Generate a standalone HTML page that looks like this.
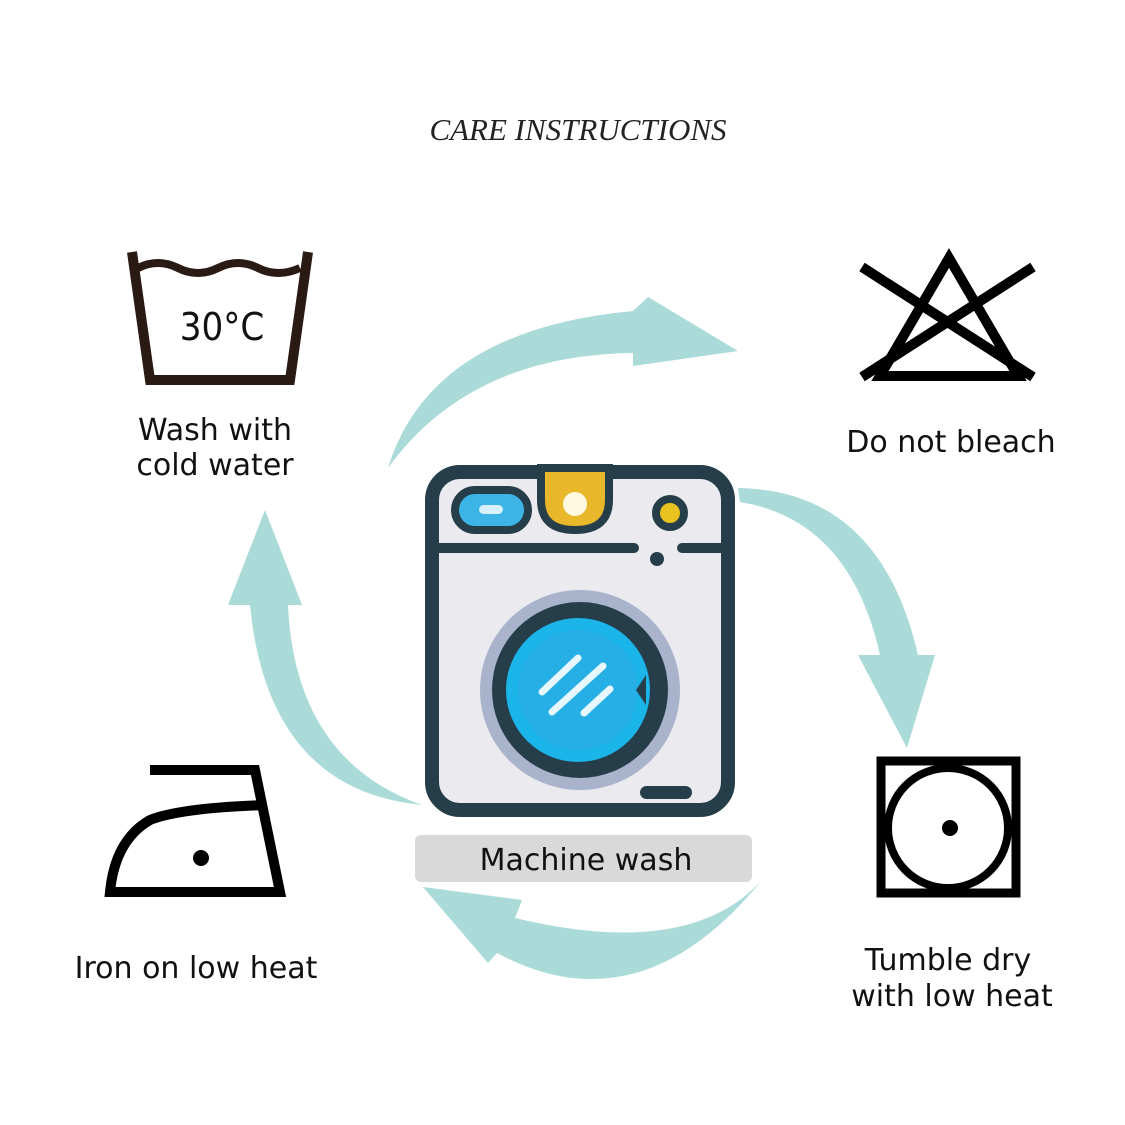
<!DOCTYPE html>
<html><head><meta charset="utf-8"><style>
html,body{margin:0;padding:0;background:#fff}
svg{display:block}
</style></head><body>
<svg width="1125" height="1125" viewBox="0 0 1125 1125" xmlns="http://www.w3.org/2000/svg">
<rect width="1125" height="1125" fill="#fff"/>
<text x="578" y="140" text-anchor="middle" font-family="Liberation Serif, serif" font-size="31" font-style="italic" fill="#222">CARE INSTRUCTIONS</text>

<!-- arrows -->
<g fill="#aadbd9">
  <path d="M388,468 Q430,330 633,311 L648,297 L738,351 L633,366 L633,353 Q470,355 388,468 Z"/>
  <path d="M738,488 Q880,490 918,655 L935,655 L907,748 L858,655 L880,655 Q850,520 740,502 Z"/>
  <path d="M762,880 Q690,960 515,918 L522,900 L423,887 L488,963 L497,953 Q640,1030 762,880 Z"/>
  <path d="M422,805 Q268,790 250,605 L228,605 L265,510 L302,605 L288,605 Q295,760 422,805 Z"/>
</g>

<!-- washing machine -->
<rect x="432" y="472" width="296" height="338" rx="28" fill="#ebebef" stroke="#263d4a" stroke-width="14"/>
<line x1="436" y1="548" x2="634" y2="548" stroke="#263d4a" stroke-width="10" stroke-linecap="round"/>
<line x1="682" y1="548" x2="726" y2="548" stroke="#263d4a" stroke-width="10" stroke-linecap="round"/>
<circle cx="657" cy="559" r="7" fill="#263d4a"/>
<rect x="455" y="490" width="73" height="40" rx="20" fill="#3cb4e6" stroke="#263d4a" stroke-width="8"/>
<rect x="479" y="505" width="24" height="9" rx="4.5" fill="#d8f0fb"/>
<path d="M541,468 L541,500 Q541,530 575,530 Q609,530 609,500 L609,468 Z" fill="#e8b82a" stroke="#263d4a" stroke-width="8"/>
<circle cx="575" cy="504" r="12" fill="#fff9e0"/>
<circle cx="670" cy="513" r="14" fill="#e8c21e" stroke="#263d4a" stroke-width="8"/>
<circle cx="580" cy="690" r="100" fill="#a9b4cc"/>
<circle cx="580" cy="690" r="88" fill="#263d4a"/>
<circle cx="578" cy="690" r="72" fill="#1bb5ea"/>
<circle cx="578" cy="690" r="60" fill="#30a9e0" opacity="0.5"/>
<path d="M646,675 L636,690 L646,705 Z" fill="#263d4a"/>
<g stroke="#e6f7ff" stroke-width="7" stroke-linecap="round">
<line x1="542" y1="692" x2="578" y2="658"/>
<line x1="552" y1="712" x2="603" y2="666"/>
<line x1="584" y1="713" x2="610" y2="689"/>
</g>
<rect x="640" y="786" width="52" height="13" rx="6.5" fill="#263d4a"/>

<rect x="415" y="835" width="337" height="47" rx="6" fill="#d9d9d9"/>
<text x="586" y="870" text-anchor="middle" font-family="DejaVu Sans, sans-serif" font-size="30" fill="#111">Machine wash</text>

<!-- wash tub -->
<path d="M132,252 L150,380 L290,380 L308,252" fill="none" stroke="#2a1a14" stroke-width="10"/>
<path d="M138,268 Q158,258 178,268 T218,268 T258,268 T300,268" fill="none" stroke="#2a1a14" stroke-width="8"/>
<text x="222" y="340" text-anchor="middle" font-family="DejaVu Sans Condensed, DejaVu Sans, sans-serif" font-size="38" fill="#111">30°C</text>
<text x="215" y="440" text-anchor="middle" font-family="DejaVu Sans, sans-serif" font-size="30" fill="#111">Wash with</text>
<text x="215" y="475" text-anchor="middle" font-family="DejaVu Sans, sans-serif" font-size="30" fill="#111">cold water</text>

<!-- bleach -->
<g stroke="#000" stroke-width="10" fill="none">
<path d="M949,258 L880,376 L1018,376 Z" stroke-linejoin="miter"/>
<line x1="862" y1="267" x2="1033" y2="377"/>
<line x1="1033" y1="267" x2="862" y2="377"/>
</g>
<text x="951" y="452" text-anchor="middle" font-family="DejaVu Sans, sans-serif" font-size="30" fill="#111">Do not bleach</text>

<!-- tumble -->
<rect x="881" y="761" width="135" height="132" fill="none" stroke="#000" stroke-width="9"/>
<circle cx="948" cy="828" r="60" fill="none" stroke="#000" stroke-width="8"/>
<circle cx="950" cy="828" r="8" fill="#000"/>
<text x="948" y="970" text-anchor="middle" font-family="DejaVu Sans, sans-serif" font-size="30" fill="#111">Tumble dry</text>
<text x="952" y="1006" text-anchor="middle" font-family="DejaVu Sans, sans-serif" font-size="30" fill="#111">with low heat</text>

<!-- iron -->
<g fill="none" stroke="#000" stroke-width="10" stroke-linejoin="miter">
<path d="M150,770 L255,770 L280,892 L110,892 Q115,840 150,820 Q180,808 265,805"/>
</g>
<circle cx="201" cy="858" r="8" fill="#000"/>
<text x="196" y="978" text-anchor="middle" font-family="DejaVu Sans, sans-serif" font-size="30" fill="#111">Iron on low heat</text>
</svg>
</body></html>
